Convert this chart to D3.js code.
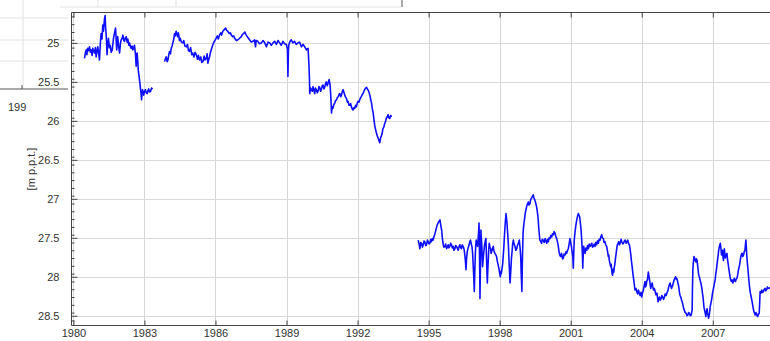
<!DOCTYPE html>
<html><head><meta charset="utf-8">
<script src="https://cdn.jsdelivr.net/npm/d3@7"></script>
<style>
html,body{margin:0;padding:0;background:#fff;}
svg{display:block;font-family:"Liberation Sans",Arial,sans-serif;}
</style></head>
<body><svg id="chart" width="770" height="341"></svg>
<script>
// ---- data (year, depth in m below ground) ----
const xTicks = [1980,1983,1986,1989,1992,1995,1998,2001,2004,2007];
const yTicks = [25,25.5,26,26.5,27,27.5,28,28.5];
const yLabel = "[m p.p.t.]";

const segA = [[1980.47,25.20],[1980.51,25.12],[1980.54,25.09],[1980.57,25.15],[1980.60,25.07],[1980.64,25.10],[1980.68,25.05],[1980.72,25.12],[1980.75,25.09],[1980.79,25.16],[1980.82,25.07],[1980.86,25.11],[1980.89,25.13],[1980.93,25.06],[1980.96,25.18],[1981.00,25.10],[1981.03,25.05],[1981.07,25.14],[1981.10,25.22],[1981.14,25.00],[1981.17,24.88],[1981.21,24.95],[1981.24,24.77],[1981.27,24.85],[1981.31,24.70],[1981.34,24.65],[1981.36,24.80],[1981.38,24.88],[1981.40,24.98],[1981.42,25.15],[1981.45,25.02],[1981.48,24.94],[1981.52,25.06],[1981.55,25.03],[1981.60,25.12],[1981.64,25.09],[1981.69,24.95],[1981.73,24.88],[1981.78,24.81],[1981.81,24.98],[1981.83,25.09],[1981.87,24.92],[1981.91,25.04],[1981.95,25.13],[1981.99,25.00],[1982.02,24.96],[1982.06,24.94],[1982.09,24.90],[1982.13,24.97],[1982.16,24.98],[1982.20,24.93],[1982.23,24.92],[1982.27,24.99],[1982.30,24.95],[1982.34,25.03],[1982.37,25.00],[1982.41,25.05],[1982.44,25.07],[1982.48,25.04],[1982.51,25.09],[1982.55,25.06],[1982.58,25.03],[1982.62,25.14],[1982.65,25.30],[1982.69,25.13],[1982.72,25.24],[1982.74,25.35],[1982.77,25.42],[1982.79,25.47],[1982.81,25.52],[1982.83,25.58],[1982.86,25.66],[1982.88,25.73],[1982.90,25.64],[1982.92,25.60],[1982.95,25.63],[1982.97,25.67],[1983.01,25.62],[1983.04,25.60],[1983.08,25.64],[1983.12,25.65],[1983.15,25.61],[1983.18,25.59],[1983.22,25.63],[1983.26,25.62],[1983.30,25.58],[1983.35,25.59]];

const segB = [[1983.85,25.24],[1983.89,25.20],[1983.92,25.18],[1983.96,25.24],[1983.99,25.22],[1984.03,25.15],[1984.06,25.11],[1984.10,25.14],[1984.13,25.07],[1984.17,25.04],[1984.20,25.00],[1984.24,24.95],[1984.27,24.88],[1984.30,24.91],[1984.34,24.85],[1984.37,24.89],[1984.40,24.92],[1984.43,24.87],[1984.45,24.90],[1984.48,24.97],[1984.51,24.94],[1984.56,24.99],[1984.62,25.00],[1984.66,24.97],[1984.71,25.04],[1984.77,25.05],[1984.82,25.02],[1984.86,25.10],[1984.90,25.11],[1984.95,25.06],[1985.00,25.15],[1985.04,25.13],[1985.09,25.18],[1985.14,25.12],[1985.19,25.15],[1985.24,25.21],[1985.28,25.16],[1985.33,25.22],[1985.38,25.18],[1985.42,25.25],[1985.47,25.24],[1985.52,25.17],[1985.56,25.22],[1985.61,25.20],[1985.65,25.14],[1985.68,25.26],[1985.72,25.21],[1985.75,25.18],[1985.79,25.12],[1985.82,25.09],[1985.87,25.04],[1985.92,25.00],[1985.97,24.97],[1986.03,24.94],[1986.08,24.91],[1986.12,24.95],[1986.17,24.90],[1986.22,24.87],[1986.26,24.90],[1986.31,24.85],[1986.37,24.83],[1986.43,24.81],[1986.47,24.84],[1986.52,24.85],[1986.58,24.88],[1986.63,24.87],[1986.67,24.90],[1986.72,24.92],[1986.77,24.91],[1986.81,24.94],[1986.88,24.97],[1986.95,24.96],[1987.02,24.94],[1987.09,24.92],[1987.14,24.89],[1987.19,24.88],[1987.24,24.86],[1987.30,24.90],[1987.37,24.93],[1987.44,24.96],[1987.51,24.99],[1987.58,24.98],[1987.65,24.96],[1987.69,25.05],[1987.72,24.97],[1987.79,24.98],[1987.86,25.01],[1987.94,25.00],[1988.01,24.97],[1988.08,25.00],[1988.15,25.05],[1988.22,24.99],[1988.29,25.00],[1988.36,25.03],[1988.43,25.00],[1988.50,24.98],[1988.57,25.02],[1988.64,24.97],[1988.71,25.00],[1988.78,25.03],[1988.85,24.98],[1988.92,25.01],[1988.99,25.02],[1989.04,25.08],[1989.06,25.43],[1989.08,25.10],[1989.10,25.02],[1989.15,24.98],[1989.20,24.96],[1989.27,25.00],[1989.34,24.98],[1989.41,25.02],[1989.48,25.00],[1989.55,24.99],[1989.63,25.05],[1989.70,25.02],[1989.77,25.05],[1989.84,25.09],[1989.91,25.07],[1989.93,25.18],[1989.95,25.30],[1989.97,25.48],[1989.98,25.65],[1990.02,25.58],[1990.05,25.60],[1990.09,25.62],[1990.12,25.56],[1990.15,25.60],[1990.19,25.65],[1990.22,25.58],[1990.26,25.60],[1990.30,25.64],[1990.33,25.62],[1990.37,25.56],[1990.40,25.57],[1990.44,25.62],[1990.47,25.60],[1990.51,25.55],[1990.54,25.54],[1990.58,25.59],[1990.61,25.57],[1990.65,25.52],[1990.68,25.50],[1990.72,25.55],[1990.75,25.52],[1990.78,25.49],[1990.80,25.47],[1990.83,25.52],[1990.85,25.58],[1990.88,25.75],[1990.90,25.90],[1990.93,25.82],[1990.96,25.84],[1991.00,25.79],[1991.04,25.77],[1991.07,25.74],[1991.11,25.73],[1991.15,25.70],[1991.18,25.69],[1991.22,25.66],[1991.25,25.65],[1991.29,25.69],[1991.32,25.67],[1991.36,25.62],[1991.39,25.60],[1991.43,25.64],[1991.46,25.67],[1991.50,25.70],[1991.53,25.71],[1991.57,25.76],[1991.60,25.75],[1991.64,25.80],[1991.67,25.80],[1991.71,25.78],[1991.74,25.82],[1991.78,25.85],[1991.81,25.86],[1991.85,25.83],[1991.88,25.84],[1991.92,25.80],[1991.95,25.82],[1991.99,25.77],[1992.02,25.75],[1992.06,25.76],[1992.09,25.73],[1992.13,25.70],[1992.16,25.69],[1992.20,25.66],[1992.23,25.65],[1992.27,25.62],[1992.30,25.60],[1992.34,25.58],[1992.38,25.57],[1992.41,25.59],[1992.44,25.60],[1992.48,25.63],[1992.52,25.67],[1992.55,25.72],[1992.59,25.77],[1992.62,25.84],[1992.66,25.90],[1992.70,26.00],[1992.73,26.07],[1992.77,26.12],[1992.80,26.16],[1992.84,26.20],[1992.87,26.22],[1992.91,26.26],[1992.94,26.28],[1992.97,26.22],[1993.00,26.20],[1993.04,26.16],[1993.07,26.10],[1993.11,26.08],[1993.14,26.04],[1993.18,26.01],[1993.21,25.97],[1993.25,25.95],[1993.29,25.92],[1993.32,25.96],[1993.36,25.97],[1993.40,25.93],[1993.43,25.95]];

const segC = [[1994.56,27.53],[1994.60,27.58],[1994.63,27.64],[1994.67,27.56],[1994.70,27.57],[1994.74,27.62],[1994.77,27.59],[1994.81,27.54],[1994.84,27.55],[1994.88,27.60],[1994.91,27.59],[1994.95,27.53],[1994.98,27.55],[1995.02,27.58],[1995.05,27.57],[1995.09,27.52],[1995.12,27.55],[1995.16,27.51],[1995.19,27.53],[1995.23,27.48],[1995.26,27.46],[1995.30,27.41],[1995.34,27.36],[1995.37,27.33],[1995.40,27.31],[1995.44,27.29],[1995.48,27.27],[1995.51,27.33],[1995.55,27.40],[1995.58,27.50],[1995.62,27.59],[1995.65,27.62],[1995.69,27.61],[1995.72,27.58],[1995.76,27.64],[1995.79,27.62],[1995.83,27.59],[1995.86,27.63],[1995.90,27.61],[1995.93,27.57],[1995.97,27.59],[1996.00,27.63],[1996.04,27.61],[1996.07,27.66],[1996.11,27.64],[1996.14,27.60],[1996.18,27.61],[1996.21,27.63],[1996.25,27.66],[1996.28,27.62],[1996.32,27.59],[1996.35,27.62],[1996.39,27.64],[1996.42,27.59],[1996.46,27.61],[1996.50,27.65],[1996.53,27.72],[1996.56,27.82],[1996.58,27.91],[1996.60,27.78],[1996.63,27.68],[1996.67,27.63],[1996.71,27.59],[1996.74,27.55],[1996.77,27.53],[1996.80,27.58],[1996.83,27.61],[1996.86,27.70],[1996.88,27.83],[1996.91,28.02],[1996.93,28.19],[1996.95,27.95],[1996.97,27.74],[1996.99,27.60],[1997.01,27.53],[1997.04,27.58],[1997.07,27.61],[1997.09,27.52],[1997.11,27.44],[1997.13,27.31],[1997.15,27.70],[1997.17,28.28],[1997.19,27.85],[1997.21,27.40],[1997.23,27.52],[1997.25,27.61],[1997.28,27.87],[1997.31,27.75],[1997.34,27.66],[1997.36,27.60],[1997.38,27.57],[1997.40,27.53],[1997.42,27.51],[1997.45,27.80],[1997.48,28.08],[1997.50,27.92],[1997.52,27.79],[1997.54,27.65],[1997.56,27.57],[1997.59,27.62],[1997.62,27.64],[1997.64,27.70],[1997.66,27.68],[1997.70,27.64],[1997.73,27.61],[1997.76,27.67],[1997.80,27.70],[1997.84,27.72],[1997.87,27.74],[1997.90,27.80],[1997.94,27.85],[1997.96,27.88],[1997.98,27.91],[1998.01,27.97],[1998.03,28.00],[1998.05,27.93],[1998.07,27.96],[1998.10,27.90],[1998.13,27.83],[1998.15,27.74],[1998.17,27.66],[1998.19,27.55],[1998.21,27.44],[1998.24,27.30],[1998.27,27.19],[1998.29,27.25],[1998.31,27.31],[1998.33,27.40],[1998.35,27.49],[1998.37,27.60],[1998.39,27.74],[1998.42,27.95],[1998.44,28.08],[1998.46,27.98],[1998.48,27.87],[1998.50,27.76],[1998.53,27.66],[1998.55,27.58],[1998.58,27.53],[1998.61,27.58],[1998.65,27.61],[1998.68,27.66],[1998.72,27.64],[1998.75,27.60],[1998.79,27.57],[1998.81,27.55],[1998.83,27.53],[1998.86,27.62],[1998.89,27.74],[1998.91,27.95],[1998.94,28.19],[1998.96,27.80],[1998.99,27.44],[1999.01,27.36],[1999.03,27.31],[1999.06,27.24],[1999.08,27.19],[1999.11,27.14],[1999.14,27.10],[1999.17,27.07],[1999.21,27.04],[1999.24,27.08],[1999.28,27.06],[1999.31,27.01],[1999.35,26.99],[1999.38,26.97],[1999.42,26.95],[1999.45,26.99],[1999.49,27.02],[1999.52,27.05],[1999.56,27.10],[1999.59,27.16],[1999.62,27.23],[1999.64,27.32],[1999.66,27.40],[1999.68,27.47],[1999.70,27.53],[1999.74,27.55],[1999.77,27.57],[1999.80,27.52],[1999.84,27.53],[1999.88,27.56],[1999.92,27.51],[1999.95,27.54],[1999.99,27.57],[2000.02,27.52],[2000.06,27.55],[2000.09,27.50],[2000.13,27.51],[2000.16,27.47],[2000.20,27.49],[2000.23,27.45],[2000.27,27.46],[2000.30,27.42],[2000.34,27.44],[2000.37,27.48],[2000.41,27.51],[2000.44,27.55],[2000.47,27.59],[2000.50,27.66],[2000.52,27.70],[2000.55,27.73],[2000.58,27.74],[2000.61,27.70],[2000.63,27.72],[2000.66,27.77],[2000.69,27.76],[2000.72,27.71],[2000.76,27.72],[2000.80,27.68],[2000.83,27.70],[2000.87,27.66],[2000.90,27.64],[2000.94,27.57],[2000.97,27.51],[2001.00,27.56],[2001.03,27.61],[2001.06,27.68],[2001.09,27.74],[2001.11,27.89],[2001.13,27.70],[2001.15,27.53],[2001.18,27.44],[2001.21,27.36],[2001.24,27.30],[2001.27,27.25],[2001.30,27.21],[2001.32,27.19],[2001.35,27.21],[2001.38,27.23],[2001.41,27.31],[2001.44,27.40],[2001.46,27.50],[2001.48,27.61],[2001.50,27.75],[2001.51,27.89],[2001.53,27.72],[2001.55,27.61],[2001.58,27.66],[2001.61,27.70],[2001.64,27.63],[2001.68,27.66],[2001.71,27.60],[2001.75,27.64],[2001.78,27.58],[2001.82,27.61],[2001.85,27.59],[2001.89,27.57],[2001.92,27.62],[2001.96,27.61]];

const segD = [[2001.99,27.58],[2002.03,27.61],[2002.06,27.56],[2002.10,27.59],[2002.13,27.54],[2002.17,27.57],[2002.20,27.52],[2002.24,27.53],[2002.27,27.49],[2002.31,27.46],[2002.34,27.50],[2002.38,27.51],[2002.41,27.56],[2002.45,27.55],[2002.48,27.59],[2002.52,27.61],[2002.55,27.66],[2002.59,27.74],[2002.61,27.72],[2002.63,27.79],[2002.66,27.83],[2002.69,27.87],[2002.71,27.84],[2002.73,27.91],[2002.75,27.96],[2002.77,27.98],[2002.80,27.90],[2002.82,27.94],[2002.84,27.88],[2002.86,27.85],[2002.89,27.77],[2002.92,27.70],[2002.95,27.63],[2002.97,27.59],[2003.00,27.57],[2003.03,27.55],[2003.06,27.59],[2003.09,27.57],[2003.13,27.52],[2003.16,27.55],[2003.20,27.58],[2003.23,27.57],[2003.27,27.54],[2003.30,27.53],[2003.34,27.57],[2003.37,27.55],[2003.41,27.53],[2003.44,27.57],[2003.48,27.59],[2003.51,27.65],[2003.54,27.72],[2003.56,27.78],[2003.58,27.83],[2003.60,27.88],[2003.62,27.94],[2003.65,28.01],[2003.68,28.08],[2003.70,28.13],[2003.72,28.17],[2003.76,28.15],[2003.79,28.19],[2003.83,28.22],[2003.86,28.17],[2003.90,28.21],[2003.93,28.24],[2003.97,28.20],[2004.00,28.26],[2004.03,28.21],[2004.07,28.17],[2004.10,28.12],[2004.14,28.06],[2004.16,28.13],[2004.19,28.11],[2004.21,28.06],[2004.24,28.04],[2004.26,27.99],[2004.28,27.94],[2004.31,28.00],[2004.33,28.04],[2004.36,28.10],[2004.38,28.15],[2004.41,28.11],[2004.44,28.08],[2004.47,28.13],[2004.50,28.17],[2004.53,28.15],[2004.57,28.19],[2004.60,28.23],[2004.64,28.21],[2004.67,28.27],[2004.69,28.32],[2004.72,28.28],[2004.75,28.26],[2004.78,28.30],[2004.82,28.28],[2004.85,28.24],[2004.89,28.26],[2004.92,28.29],[2004.96,28.26],[2004.99,28.22],[2005.03,28.24],[2005.06,28.21],[2005.09,28.19],[2005.12,28.16],[2005.14,28.13],[2005.17,28.10],[2005.20,28.08],[2005.23,28.12],[2005.26,28.15],[2005.28,28.13],[2005.31,28.11],[2005.34,28.07],[2005.37,28.04],[2005.40,28.02],[2005.43,28.00],[2005.46,28.03],[2005.48,28.02],[2005.51,28.05],[2005.53,28.08],[2005.56,28.12],[2005.58,28.17],[2005.60,28.21],[2005.62,28.24],[2005.65,28.26],[2005.67,28.28],[2005.69,28.31],[2005.71,28.32],[2005.74,28.36],[2005.76,28.39],[2005.79,28.42],[2005.82,28.45],[2005.85,28.46],[2005.88,28.47],[2005.91,28.50],[2005.95,28.49],[2005.98,28.46],[2006.02,28.47],[2006.05,28.50],[2006.09,28.49],[2006.11,28.46],[2006.13,28.43],[2006.14,28.20],[2006.16,27.91],[2006.18,27.82],[2006.19,27.79],[2006.21,27.74],[2006.23,27.76],[2006.26,27.79],[2006.29,27.81],[2006.31,27.77],[2006.34,27.79],[2006.37,27.88],[2006.40,27.96],[2006.42,27.99],[2006.45,28.02],[2006.47,28.05],[2006.50,28.08],[2006.53,28.13],[2006.55,28.17],[2006.57,28.22],[2006.59,28.26],[2006.61,28.33],[2006.63,28.39],[2006.65,28.42],[2006.67,28.45],[2006.69,28.48],[2006.71,28.51],[2006.73,28.45],[2006.76,28.41],[2006.78,28.46],[2006.80,28.49],[2006.82,28.53],[2006.84,28.51],[2006.87,28.45],[2006.89,28.39],[2006.92,28.34],[2006.96,28.28],[2006.99,28.21],[2007.03,28.15],[2007.06,28.10],[2007.10,28.04],[2007.13,27.96],[2007.17,27.87],[2007.20,27.79],[2007.23,27.72],[2007.25,27.66],[2007.28,27.61],[2007.30,27.59],[2007.32,27.57],[2007.35,27.65],[2007.37,27.72],[2007.39,27.68],[2007.41,27.66],[2007.43,27.74],[2007.45,27.79],[2007.47,27.70],[2007.49,27.64],[2007.51,27.71],[2007.53,27.76],[2007.56,27.72],[2007.60,27.70],[2007.62,27.77],[2007.65,27.83],[2007.67,27.88],[2007.70,27.94],[2007.72,27.98],[2007.74,28.02],[2007.77,28.05],[2007.79,28.06],[2007.82,28.04],[2007.85,28.08],[2007.88,28.05],[2007.91,28.02],[2007.93,28.05],[2007.96,28.06],[2007.99,28.03],[2008.02,28.02],[2008.05,27.98],[2008.07,27.94],[2008.10,27.89],[2008.13,27.85],[2008.16,27.79],[2008.19,27.74],[2008.21,27.71],[2008.24,27.70],[2008.27,27.74],[2008.30,27.72],[2008.33,27.68],[2008.36,27.66],[2008.38,27.59],[2008.40,27.53],[2008.42,27.63],[2008.44,27.74],[2008.46,27.82],[2008.49,27.91],[2008.51,27.99],[2008.53,28.06],[2008.55,28.12],[2008.57,28.17],[2008.59,28.21],[2008.61,28.24],[2008.63,28.27],[2008.65,28.30],[2008.68,28.35],[2008.70,28.39],[2008.72,28.42],[2008.74,28.45],[2008.77,28.47],[2008.79,28.49],[2008.82,28.46],[2008.85,28.47],[2008.87,28.50],[2008.90,28.51],[2008.93,28.48],[2008.96,28.47],[2008.98,28.35],[2009.00,28.19],[2009.04,28.21],[2009.07,28.17],[2009.10,28.20],[2009.14,28.19],[2009.17,28.16],[2009.21,28.15],[2009.24,28.18],[2009.28,28.16],[2009.31,28.13],[2009.35,28.15],[2009.42,28.14]];

const W = 770, H = 341;
const plot = {left: 71.5, top: 12.5, bottom: 325.5, right: 800};
const svg = d3.select("#chart");

// ---- backdrop: edge of the neighbouring figure visible in the screenshot ----
const bg = svg.append("g").attr("class","neighbour");
[18,40,61].forEach(yy => bg.append("line").attr("x1",0).attr("x2",68).attr("y1",yy).attr("y2",yy).attr("stroke","#e2e2e2"));
bg.append("line").attr("x1",23).attr("x2",23).attr("y1",0).attr("y2",88).attr("stroke","#e2e2e2");
bg.append("line").attr("x1",0).attr("x2",68).attr("y1",89).attr("y2",89).attr("stroke","#555");
bg.append("line").attr("x1",22).attr("x2",22).attr("y1",85).attr("y2",89).attr("stroke","#555");
bg.append("text").attr("x",8).attr("y",111).attr("font-size",11).attr("fill","#333").text("199");
bg.append("line").attr("x1",60).attr("x2",402).attr("y1",7).attr("y2",7).attr("stroke","#e2e2e2");
[98,176].forEach(xx => bg.append("line").attr("x1",xx).attr("x2",xx).attr("y1",0).attr("y2",7).attr("stroke","#e2e2e2"));
bg.append("line").attr("x1",402).attr("x2",402).attr("y1",0).attr("y2",7).attr("stroke","#555");

// ---- scales ----
const x = d3.scaleLinear().domain([1979.92, 1979.92 + (plot.right - plot.left)/23.68]).range([plot.left, plot.right]);
const y = d3.scaleLinear().domain([24.61, 28.625]).range([plot.top, plot.bottom]);

// ---- grid ----
const grid = svg.append("g");
grid.selectAll("line.vg").data(xTicks).join("line")
  .attr("x1", d=>Math.round(x(d))+0.5).attr("x2", d=>Math.round(x(d))+0.5)
  .attr("y1", plot.top).attr("y2", plot.bottom)
  .attr("stroke","#d6d6d6").attr("stroke-width",1);
grid.selectAll("line.hg").data(yTicks).join("line")
  .attr("x1", plot.left).attr("x2", plot.right)
  .attr("y1", d=>Math.round(y(d))+0.5).attr("y2", d=>Math.round(y(d))+0.5)
  .attr("stroke","#d9d9d9").attr("stroke-width",1);

// ---- series ----
svg.append("clipPath").attr("id","clip").append("rect")
  .attr("x",plot.left).attr("y",plot.top).attr("width",plot.right-plot.left).attr("height",plot.bottom-plot.top);
const line = d3.line().x(d=>x(d[0])).y(d=>y(d[1]));
const series = [segA, segB, segC.concat(segD)];
svg.append("g").attr("clip-path","url(#clip)").selectAll("path").data(series).join("path")
  .attr("d", line).attr("fill","none").attr("stroke","#0f0fff").attr("stroke-width",1.6)
  .attr("stroke-linejoin","round");

// ---- frame & axes ----
const axCol = "#444";
svg.append("line").attr("x1",plot.left).attr("x2",plot.right).attr("y1",plot.top).attr("y2",plot.top).attr("stroke",axCol);
svg.append("line").attr("x1",plot.left).attr("x2",plot.right).attr("y1",plot.bottom).attr("y2",plot.bottom).attr("stroke",axCol);
svg.append("line").attr("x1",plot.left).attr("x2",plot.left).attr("y1",plot.top).attr("y2",plot.bottom).attr("stroke",axCol);

// bottom axis (inward ticks)
const xb = svg.append("g").attr("transform",`translate(0,${plot.bottom})`)
  .call(d3.axisBottom(x).tickValues(xTicks).tickFormat(d3.format("d")).tickSize(-5).tickPadding(4));
xb.select(".domain").remove();
xb.selectAll("line").attr("stroke",axCol);
xb.selectAll("text").attr("font-size",11).attr("fill","#333").attr("font-family","Liberation Sans, Arial, sans-serif");
// top axis ticks
const xt = svg.append("g").attr("transform",`translate(0,${plot.top})`)
  .call(d3.axisTop(x).tickValues(xTicks).tickFormat("").tickSize(-5));
xt.select(".domain").remove();
xt.selectAll("line").attr("stroke",axCol);

// left axis: minor ticks
const minor = d3.range(246, 2863, 10).map(v=>v/100).filter(v=>v>=24.62 && v<=28.62);
const yMinor = svg.append("g").attr("transform",`translate(${plot.left},0)`)
  .call(d3.axisLeft(y).tickValues(minor).tickFormat("").tickSize(-3));
yMinor.select(".domain").remove();
yMinor.selectAll("line").attr("stroke",axCol);
const yl = svg.append("g").attr("transform",`translate(${plot.left},0)`)
  .call(d3.axisLeft(y).tickValues(yTicks).tickFormat(d=>String(d)).tickSize(-6).tickPadding(12));
yl.select(".domain").remove();
yl.selectAll("line").attr("stroke",axCol);
yl.selectAll("text").attr("font-size",11).attr("fill","#333").attr("font-family","Liberation Sans, Arial, sans-serif");

svg.append("text").attr("transform",`translate(35,${(plot.top+plot.bottom)/2}) rotate(-90)`)
  .attr("text-anchor","middle").attr("font-size",11).attr("fill","#333").text(yLabel);
</script>
</body></html>
